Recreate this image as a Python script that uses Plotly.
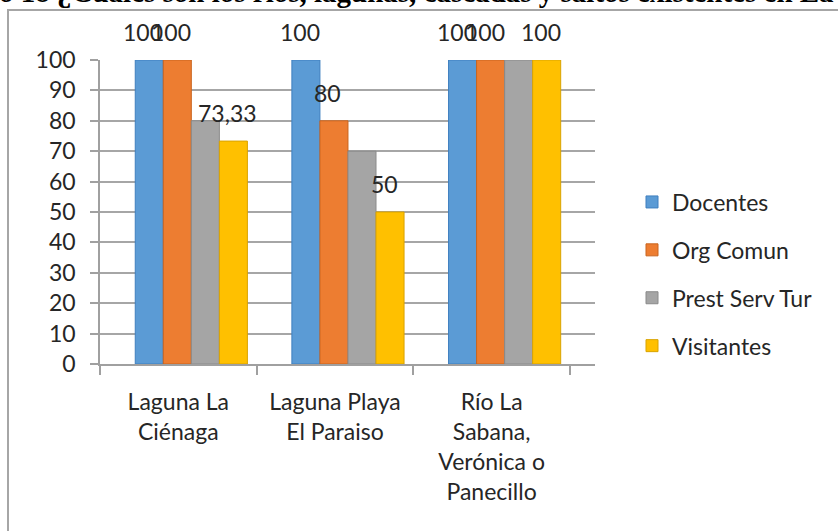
import plotly.graph_objects as go

categories = ["Laguna La<br>Ciénaga", "Laguna Playa<br>El Paraiso", "Río La<br>Sabana,<br>Verónica o<br>Panecillo"]
series_names = ["Docentes", "Org Comun", "Prest Serv Tur", "Visitantes"]
docentes = [100, 100, 100]
org_comun = [100, 80, 100]
prest_serv_tur = [80, 70, 100]
visitantes = [73.33, 50, 100]
label_texts = {
    "Docentes": ["100", "100", "100"],
    "Org Comun": ["100", "80", "100"],
    "Prest Serv Tur": None,
    "Visitantes": ["73,33", "50", "100"],
}
title_text = "o 18 ¿Cuáles son los ríos, lagunas, cascadas y saltos existentes en La"

values = [docentes, org_comun, prest_serv_tur, visitantes]
colors = ["#5B9BD5", "#ED7D31", "#A5A5A5", "#FFC000"]
edge = ["#3F7FBF", "#C9641E", "#8A8A8A", "#D9A300"]
offsets = [-0.275, -0.096, 0.083, 0.262]
bw = 0.179
FONT = "Lato"
TXT = "#262626"

W, H = 838, 531
ml, mr, mt, mb = 100, 838 - 595, 60, 531 - 364
x_range = [-0.5, 2.66]
plot_h = H - mt - mb
plot_w = W - ml - mr
px_per_unit = plot_w / (x_range[1] - x_range[0])


def py(pix):
    return 1 - (pix - mt) / plot_h


def px(pix):
    return (pix - ml) / plot_w


fig = go.Figure()
for i, (name, vals) in enumerate(zip(series_names, values)):
    fig.add_trace(go.Bar(
        x=categories, y=vals, name=name,
        width=bw, offset=offsets[i],
        marker=dict(color=colors[i], line=dict(color=edge[i], width=1)),
        legendgroup=name,
        hoverinfo="skip",
    ))

annotations = []
for i, name in enumerate(series_names):
    texts = label_texts[name]
    if texts is None:
        continue
    shift = (offsets[i] + bw / 2) * px_per_unit - 6
    for c, v, t in zip(categories, values[i], texts):
        annotations.append(dict(
            x=c, y=v, xref="x", yref="y", text=t, showarrow=False,
            xshift=shift, yshift=28, yanchor="middle", xanchor="center",
            font=dict(family=FONT, size=23, color=TXT),
        ))

annotations.append(dict(
    x=px(-3), y=py(10), xref="paper", yref="paper",
    text="<b>" + title_text + "</b>", showarrow=False, xanchor="left", yanchor="bottom",
    font=dict(family="Liberation Serif", size=29, color="#000000"),
))

fig.add_shape(
    type="rect", xref="paper", yref="paper",
    x0=px(8), x1=px(W + 20), y0=py(H + 20), y1=py(10),
    line=dict(color="#A6A6A6", width=2), fillcolor="rgba(0,0,0,0)", layer="below",
)

fig.update_layout(
    width=W, height=H,
    margin=dict(l=ml, r=mr, t=mt, b=mb, pad=0),
    paper_bgcolor="white", plot_bgcolor="white",
    barmode="group",
    showlegend=True,
    legend=dict(
        x=px(632), y=py(274), xanchor="left", yanchor="middle",
        font=dict(family=FONT, size=23, color=TXT),
        tracegroupgap=15, traceorder="grouped", bgcolor="rgba(0,0,0,0)",
        itemwidth=30,
    ),
    annotations=annotations,
    xaxis=dict(
        range=x_range, showgrid=False, showline=True, linecolor="#A0A0A0", linewidth=1.5,
        ticks="outside", tickson="boundaries", ticklen=9, tickcolor="#A0A0A0", tickwidth=1.5,
        tickfont=dict(family=FONT, size=23, color=TXT), ticklabelstandoff=17,
    ),
    yaxis=dict(
        range=[0, 100], dtick=10, showgrid=True, gridcolor="#A6A6A6", gridwidth=1.5,
        showline=True, linecolor="#A0A0A0", linewidth=1.5, zeroline=False,
        ticks="outside", ticklen=8, tickcolor="#A0A0A0", tickwidth=1.5,
        tickfont=dict(family=FONT, size=23, color=TXT), ticklabelstandoff=10,
    ),
)

fig.write_html("out.html", config={"displayModeBar": False},
               post_script="document.body.style.margin='0';")
